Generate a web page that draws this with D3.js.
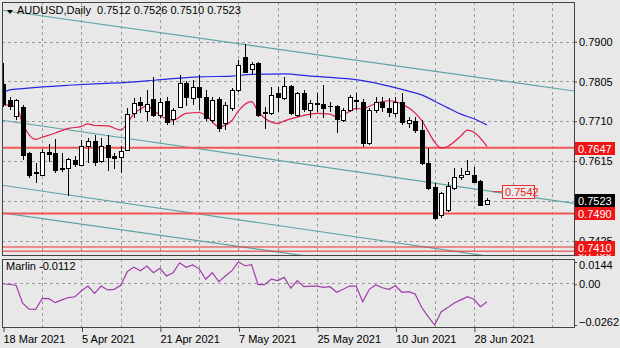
<!DOCTYPE html>
<html><head><meta charset="utf-8">
<script src="https://cdn.jsdelivr.net/npm/d3@7"></script>
<style>
body{margin:0;background:#e8e8e8;}
text{font-family:"Liberation Sans",Arial,sans-serif;font-size:11px;}
</style>
</head><body>
<svg id="c" width="620" height="348"></svg>
<script>
// ---------- DATA ----------
const symbol = "AUDUSD,Daily";
const indicatorName = "Marlin";
const dateLabels = ["18 Mar 2021","5 Apr 2021","21 Apr 2021","7 May 2021","25 May 2021","10 Jun 2021","28 Jun 2021"];
const dateTickIdx = [0,12,24,36,48,60,72];

const open  = [0.7800,0.7760,0.7722,0.7745,0.7634,0.7588,0.7583,0.7637,0.7635,0.7599,
               0.7598,0.7618,0.7606,0.7651,0.7664,0.7616,0.7653,0.7626,0.7624,0.7642,
               0.7729,0.7757,0.7735,0.7763,0.7725,0.7759,0.7715,0.7743,0.7801,0.7765,
               0.7793,0.7769,0.7712,0.7762,0.7705,0.7741,0.7785,0.7864,0.7834,0.7848,
               0.7729,0.7729,0.7777,0.7765,0.7794,0.7725,0.7778,0.7737,0.7752,0.7751,
               0.7746,0.7747,0.7713,0.7737,0.7760,0.7757,0.7658,0.7737,0.7757,0.7741,
               0.7729,0.7757,0.7705,0.7711,0.7689,0.7610,0.7554,0.7486,0.7498,0.7550,
               0.7576,0.7584,0.7582,0.7567,0.7512];
const high  = [0.7849,0.7768,0.7764,0.7749,0.7637,0.7610,0.7645,0.7656,0.7667,0.7634,
               0.7622,0.7626,0.7665,0.7669,0.7677,0.7670,0.7677,0.7635,0.7651,0.7741,
               0.7765,0.7769,0.7785,0.7816,0.7765,0.7769,0.7741,0.7821,0.7807,0.7809,
               0.7821,0.7785,0.7768,0.7768,0.7756,0.7790,0.7856,0.7895,0.7852,0.7852,
               0.7744,0.7793,0.7793,0.7816,0.7797,0.7781,0.7785,0.7761,0.7777,0.7797,
               0.7757,0.7748,0.7741,0.7773,0.7777,0.7762,0.7741,0.7769,0.7769,0.7765,
               0.7769,0.7777,0.7721,0.7721,0.7713,0.7646,0.7562,0.7542,0.7566,0.7598,
               0.7598,0.7618,0.7602,0.7571,0.7526];
const low   = [0.7745,0.7737,0.7712,0.7618,0.7574,0.7562,0.7580,0.7614,0.7587,0.7590,
               0.7532,0.7602,0.7603,0.7610,0.7603,0.7610,0.7592,0.7595,0.7586,0.7640,
               0.7717,0.7730,0.7710,0.7721,0.7717,0.7701,0.7701,0.7741,0.7747,0.7749,
               0.7737,0.7711,0.7705,0.7684,0.7690,0.7735,0.7780,0.7825,0.7820,0.7720,
               0.7692,0.7725,0.7733,0.7760,0.7725,0.7721,0.7733,0.7717,0.7733,0.7717,
               0.7733,0.7682,0.7709,0.7733,0.7737,0.7649,0.7653,0.7729,0.7733,0.7721,
               0.7721,0.7701,0.7693,0.7681,0.7606,0.7546,0.7474,0.7478,0.7494,0.7546,
               0.7570,0.7582,0.7562,0.7508,0.7510];
const close = [0.7752,0.7747,0.7760,0.7630,0.7582,0.7586,0.7637,0.7633,0.7594,0.7597,
               0.7619,0.7607,0.7651,0.7663,0.7614,0.7651,0.7624,0.7622,0.7640,0.7727,
               0.7754,0.7748,0.7752,0.7725,0.7757,0.7709,0.7737,0.7801,0.7769,0.7793,
               0.7769,0.7718,0.7761,0.7693,0.7749,0.7785,0.7844,0.7828,0.7846,0.7725,
               0.7733,0.7773,0.7769,0.7794,0.7729,0.7777,0.7739,0.7754,0.7754,0.7741,
               0.7747,0.7715,0.7737,0.7769,0.7758,0.7658,0.7737,0.7757,0.7745,0.7731,
               0.7757,0.7709,0.7713,0.7689,0.7610,0.7550,0.7478,0.7538,0.7556,0.7578,
               0.7583,0.7592,0.7566,0.7510,0.7523];

// moving averages: [bar index, price]
const maSlow = [[0,0.7777],[1,0.7785],[3,0.7788],[6,0.7792],[10,0.7796],[15,0.7800],[19,0.7803],
  [23,0.7808],[26,0.7812],[30,0.7816],[35,0.7818],[38,0.7822],[43,0.7823],[47,0.7818],[50,0.7815],
  [53,0.7811],[56,0.7804],[59,0.7794],[62,0.7782],[64,0.7773],[66,0.7758],[68,0.7742],[70,0.7727],
  [72,0.7716],[74,0.7701]];
const maFast = [[0,0.7749],[2,0.7745],[3,0.7705],[5,0.7667],[6,0.7672],[8,0.7682],[10,0.7693],
  [12,0.7698],[13,0.7704],[14,0.7700],[16,0.7699],[18,0.7689],[19,0.7705],[20,0.7728],[21,0.7739],
  [22,0.7747],[23,0.7737],[24,0.7724],[26,0.7713],[28,0.7729],[30,0.7731],[31,0.7724],[33,0.7697],
  [35,0.7712],[36,0.7735],[38,0.7757],[39,0.7733],[40,0.7718],[42,0.7705],[43,0.7711],[45,0.7720],
  [47,0.7727],[48,0.7729],[50,0.7727],[51,0.7720],[52,0.7725],[54,0.7741],[55,0.7739],[56,0.7746],
  [58,0.7757],[59,0.7759],[61,0.7751],[63,0.7730],[64,0.7712],[65,0.7686],[66,0.7660],[67,0.7646],
  [68,0.7650],[70,0.7675],[71,0.7689],[72,0.7684],[74,0.7650]];

const marlin = [0.0004,-0.0001,-0.0006,-0.0122,-0.0160,-0.0161,-0.0090,-0.0092,-0.0118,-0.0100,
  -0.0085,-0.0080,-0.0041,-0.0011,-0.0058,-0.0011,-0.0036,-0.0032,-0.0006,0.0082,
  0.0110,0.0088,0.0118,0.0075,0.0103,0.0054,0.0075,0.0139,0.0110,0.0125,
  0.0100,0.0033,0.0075,0.0017,0.0054,0.0088,0.0144,0.0120,0.0127,-0.0002,
  -0.0002,0.0033,0.0024,0.0045,-0.0025,0.0024,-0.0015,-0.0011,-0.0011,-0.0019,
  -0.0015,-0.0051,-0.0032,-0.0011,-0.0011,-0.0112,-0.0032,-0.0004,-0.0022,-0.0032,
  -0.0009,-0.0051,-0.0047,-0.0062,-0.0148,-0.0208,-0.0262,-0.0176,-0.0150,-0.0120,
  -0.0100,-0.0080,-0.0096,-0.0144,-0.0112];

const priceTicks = [0.7900,0.7805,0.7710,0.7615,0.7520,0.7425];
const indTicks = [0.0144,0,-0.0262];
const levels = [0.7400,0.7647,0.7490,0.7410];
// channel trendlines: two anchor points [bar index, price]
const trendlines = [
  [[0,0.79747],[74,0.78116]],
  [[0,0.77121],[74,0.75441]],
  [[0,0.75570],[74,0.73885]],
  [[0,0.74909],[46,0.73893]]
];
const priceMark = 0.7542;
const priceMarkIdx = [74.9, 76.3];

// ---------- LAYOUT ----------
const L = 2, R = 574, mTop = 2, mBot = 256, iTop = 259, iBot = 327;
const svg = d3.select("#c");
svg.append("rect").attr("width",620).attr("height",348).attr("fill","#e8e8e8");

const x = d3.scaleLinear().domain([0, open.length-1]).range([3, 487]);
const y = d3.scaleLinear().domain([0.73885, 0.79923]).range([mBot, 3]);
const yi = d3.scaleLinear().domain([-0.0262, 0.0144]).range([325, 262]);
const px = v => Math.round(x(v)) + 0.5;

const defs = svg.append("defs");
defs.append("clipPath").attr("id","cm").append("rect").attr("x",L).attr("y",mTop).attr("width",R-L).attr("height",mBot-mTop);
defs.append("clipPath").attr("id","ci").append("rect").attr("x",L).attr("y",iTop).attr("width",R-L).attr("height",iBot-iTop);
defs.append("clipPath").attr("id","cr").append("rect").attr("x",R).attr("y",0).attr("width",620-R).attr("height",mBot);

const gridIdx = d3.range(6, 88, 6);
const gridStyle = s => s.attr("stroke","#9c9c9c").attr("stroke-width",1).attr("stroke-dasharray","3,3").attr("shape-rendering","crispEdges");

// main panel
const gm = svg.append("g").attr("clip-path","url(#cm)");
gm.selectAll(".vg").data(gridIdx).join("line").attr("x1",px).attr("x2",px).attr("y1",mTop).attr("y2",mBot).call(gridStyle);
gm.selectAll(".hg").data(priceTicks).join("line").attr("x1",L).attr("x2",R)
  .attr("y1",d=>Math.round(y(d))+0.5).attr("y2",d=>Math.round(y(d))+0.5).call(gridStyle);

// trendlines
gm.selectAll(".tl").data(trendlines).join("line")
  .attr("x1",d=>x(-2)).attr("x2",d=>x(95))
  .attr("y1",d=>{const s=(d[1][1]-d[0][1])/(d[1][0]-d[0][0]);return y(d[0][1]+s*(-2-d[0][0]));})
  .attr("y2",d=>{const s=(d[1][1]-d[0][1])/(d[1][0]-d[0][0]);return y(d[0][1]+s*(95-d[0][0]));})
  .attr("stroke","#5fa3a6").attr("stroke-width",1.2);

// level lines
gm.selectAll(".lv").data(levels).join("line").attr("x1",L).attr("x2",R)
  .attr("y1",d=>y(d)).attr("y2",d=>y(d))
  .attr("stroke",(d,k)=>k===1||k===2?"#f05656":"#e83030")
  .attr("stroke-width",(d,k)=>k===1||k===2?2:1);

// moving averages
const lineGen = d3.line().x(d=>x(d[0])).y(d=>y(d[1])).curve(d3.curveMonotoneX);
gm.append("path").datum(maSlow).attr("d",lineGen).attr("fill","none").attr("stroke","#2828e6").attr("stroke-width",1.2);
gm.append("path").datum(maFast).attr("d",lineGen).attr("fill","none").attr("stroke","#e0204c").attr("stroke-width",1.2);

// candles
const idx = d3.range(open.length);
gm.selectAll(".wk").data(idx).join("line")
  .attr("x1",px).attr("x2",px).attr("y1",i=>y(high[i])).attr("y2",i=>y(low[i]))
  .attr("stroke","#000").attr("shape-rendering","crispEdges");
idx.forEach(i=>{
  const top = Math.round(y(Math.max(open[i],close[i]))) + 0.5;
  const bot = Math.round(y(Math.min(open[i],close[i]))) + 0.5;
  const cx = px(i);
  if (bot - top < 1) {
    gm.append("line").attr("x1",cx-2.5).attr("x2",cx+2.5).attr("y1",top).attr("y2",top)
      .attr("stroke","#000").attr("shape-rendering","crispEdges");
  } else {
    gm.append("rect").attr("x",cx-2).attr("width",4).attr("y",top).attr("height",bot-top)
      .attr("fill", close[i] >= open[i] ? "#fff" : "#000").attr("stroke","#000")
      .attr("shape-rendering","crispEdges");
  }
});

// price mark label 0.7542
gm.append("line").attr("x1",x(priceMarkIdx[0])).attr("x2",x(priceMarkIdx[1])).attr("y1",y(priceMark)).attr("y2",y(priceMark)).attr("stroke","#e83030");
gm.append("rect").attr("x",Math.round(x(priceMarkIdx[1]))+0.5).attr("y",Math.round(y(priceMark))-6.5).attr("width",32).attr("height",13)
  .attr("fill","#ececec").attr("stroke","#e83030");
gm.append("text").attr("x",x(priceMarkIdx[1])+3).attr("y",y(priceMark)+4).attr("fill","#e82020").text(priceMark.toFixed(4));

// title
svg.append("path").attr("d","M7,10 L13,10 L10,14 Z").attr("fill","#000");
svg.append("text").attr("x",17).attr("y",14).attr("fill","#000")
  .text(symbol + "  " + [open, high, low, close].map(a=>a[a.length-1].toFixed(4)).join(" "))
  .attr("xml:space","preserve").style("white-space","pre");

// indicator panel
const gi = svg.append("g").attr("clip-path","url(#ci)");
gi.selectAll(".vg").data(gridIdx).join("line").attr("x1",px).attr("x2",px).attr("y1",iTop).attr("y2",iBot).call(gridStyle);
gi.append("line").attr("x1",L).attr("x2",R).attr("y1",Math.round(yi(0))-0.5).attr("y2",Math.round(yi(0))-0.5).call(gridStyle);
gi.append("path").datum(marlin).attr("d",d3.line().x((d,i)=>x(i)).y(d=>yi(d)))
  .attr("fill","none").attr("stroke","#a03cac").attr("stroke-width",1.2);
svg.append("text").attr("x",6).attr("y",270).attr("fill","#000")
  .text(indicatorName + " " + marlin[marlin.length-1].toFixed(4));

// frames
svg.append("rect").attr("x",L+0.5).attr("y",mTop+0.5).attr("width",R-L).attr("height",mBot-mTop-1)
  .attr("fill","none").attr("stroke","#444").attr("shape-rendering","crispEdges");
svg.append("rect").attr("x",L+0.5).attr("y",iTop+0.5).attr("width",R-L).attr("height",iBot-iTop)
  .attr("fill","none").attr("stroke","#444").attr("shape-rendering","crispEdges");

// right price axis
const ax = svg.append("g").attr("transform",`translate(${R},0)`)
  .call(d3.axisRight(y).tickValues(priceTicks).tickSize(3).tickPadding(2).tickFormat(d3.format(".4f")));
ax.select(".domain").remove();
ax.selectAll("text").attr("fill","#000").style("font-size","11px").style("font-family","Liberation Sans, Arial, sans-serif");
ax.selectAll("line").attr("stroke","#444");

// level labels on the axis
const gr = svg.append("g").attr("clip-path","url(#cr)");
const boxes = levels.map(v=>({v, bg:"#f01414"})).concat([{v:close[close.length-1], bg:"#000"}]);
boxes.forEach(b=>{
  gr.append("rect").attr("x",R+1).attr("y",Math.round(y(b.v))-6).attr("width",40).attr("height",13).attr("fill",b.bg);
  gr.append("text").attr("x",R+4).attr("y",Math.round(y(b.v))+4.5).attr("fill","#fff").text(b.v.toFixed(4));
});

// indicator axis
const ai = svg.append("g").attr("transform",`translate(${R},0)`)
  .call(d3.axisRight(yi).tickValues(indTicks).tickSize(3).tickPadding(2)
  .tickFormat(d=> d===0 ? "0.00" : d3.format(".4f")(d)));
ai.select(".domain").remove();
ai.selectAll("text").attr("fill","#000").style("font-size","11px").style("font-family","Liberation Sans, Arial, sans-serif")
  .attr("dy",d=> d>0 ? "0.6em" : d<0 ? "0.05em" : "0.32em");
ai.selectAll("line").attr("stroke","#444");

// date axis
const ad = svg.append("g").attr("transform",`translate(0,${iBot+1})`)
  .call(d3.axisBottom(x).tickValues(dateTickIdx).tickSize(4).tickPadding(3).tickFormat((d,k)=>dateLabels[k]));
ad.select(".domain").remove();
ad.selectAll("line").attr("stroke","#444").attr("transform","translate(0.5,0)");
ad.selectAll("text").attr("fill","#000").attr("text-anchor","start").attr("dx","0")
  .style("font-size","11px").style("font-family","Liberation Sans, Arial, sans-serif");
</script>
</body></html>
